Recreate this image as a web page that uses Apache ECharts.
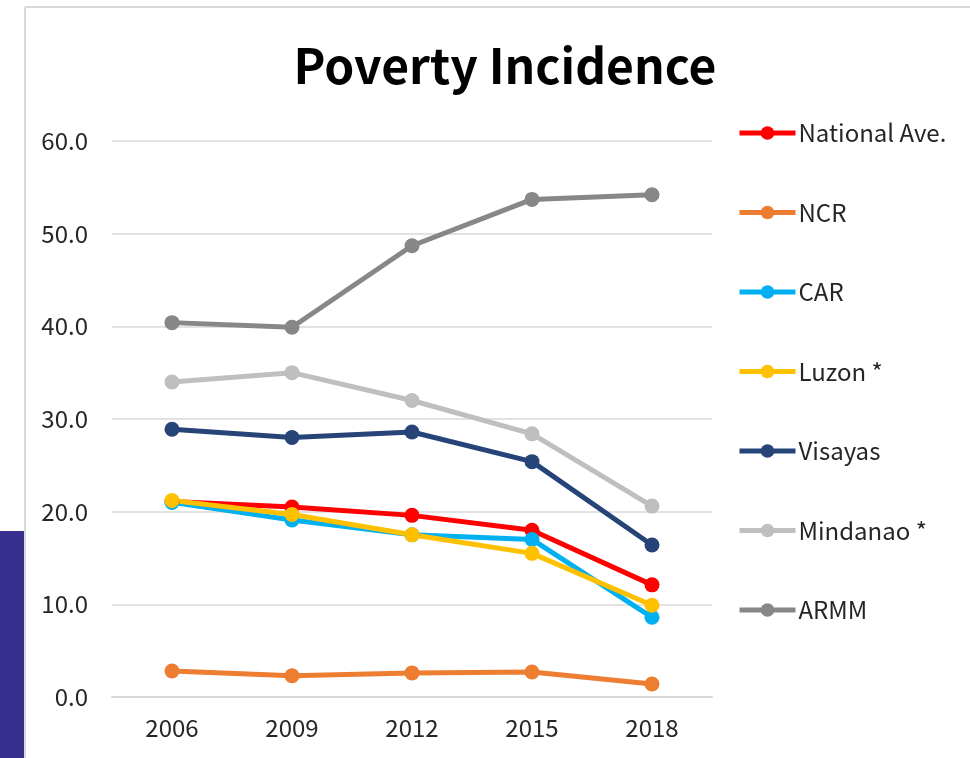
<!DOCTYPE html>
<html>
<head>
<meta charset="utf-8">
<script src="https://cdn.jsdelivr.net/npm/echarts@6/dist/echarts.min.js"></script>
<style>
html,body{margin:0;padding:0;background:#fff;}
#c{width:970px;height:758px;}
</style>
</head>
<body>
<div id="c"></div>
<script>
const years = ['2006', '2009', '2012', '2015', '2018'];
const nationalAve = [21.1, 20.5, 19.6, 18.0, 12.1];
const ncr = [2.8, 2.3, 2.6, 2.7, 1.4];
const car = [21.0, 19.1, 17.5, 17.0, 8.6];
const luzon = [21.2, 19.7, 17.5, 15.5, 9.9];
const visayas = [28.9, 28.0, 28.6, 25.4, 16.4];
const mindanao = [34.0, 35.0, 32.0, 28.4, 20.6];
const armm = [40.4, 39.9, 48.7, 53.7, 54.2];
const seriesNames = ['National Ave.', 'NCR', 'CAR', 'Luzon *', 'Visayas', 'Mindanao *', 'ARMM'];
const seriesColors = ['#FF0000', '#ED7D31', '#00B0F0', '#FFC000', '#264478', '#BFBFBF', '#878787'];
const seriesData = [nationalAve, ncr, car, luzon, visayas, mindanao, armm];

const font = '"Noto Sans CJK JP", "Noto Sans", sans-serif';
const chart = echarts.init(document.getElementById('c'));
chart.setOption({
  animation: false,
  backgroundColor: '#ffffff',
  title: {
    text: 'Poverty Incidence',
    left: 500, top: 37, textAlign: 'center',
    textStyle: { fontFamily: font, fontSize: 48, fontWeight: 'bold', color: '#000000' }
  },
  graphic: [
    { type: 'rect', shape: { x: 0, y: 531, width: 24, height: 227 }, style: { fill: '#372E8D' }, z: -1 },
    { type: 'line', shape: { x1: 25, y1: 7, x2: 970, y2: 7 }, style: { stroke: '#D9D9D9', lineWidth: 2 } },
    { type: 'line', shape: { x1: 25, y1: 7, x2: 25, y2: 758 }, style: { stroke: '#D9D9D9', lineWidth: 2 } }
  ],
  legend: {
    orient: 'vertical',
    left: 732, top: 116,
    itemWidth: 56, itemHeight: 17,
    itemGap: 55.5,
    data: seriesNames,
    lineStyle: { width: 5 },
    textStyle: { fontFamily: font, fontSize: 24, color: '#262626', padding: [0, 0, 0, -2], lineHeight: 24 }
  },
  grid: { left: 112, right: 258, top: 141, bottom: 61 },
  xAxis: {
    type: 'category', data: years, boundaryGap: true,
    axisLine: { show: true, lineStyle: { color: '#D9D9D9', width: 2 } },
    axisTick: { show: false },
    axisLabel: { fontFamily: font, fontSize: 24, color: '#262626', margin: 19 }
  },
  yAxis: {
    type: 'value', min: 0, max: 60, interval: 10,
    axisLine: { show: false }, axisTick: { show: false },
    splitLine: { lineStyle: { color: '#D9D9D9', width: 1.5 } },
    axisLabel: { fontFamily: font, fontSize: 24, color: '#262626', margin: 24, formatter: v => v.toFixed(1) }
  },
  series: seriesNames.map((n, i) => ({
    name: n, type: 'line', data: seriesData[i],
    symbol: 'circle', symbolSize: 15,
    lineStyle: { width: 5, color: seriesColors[i] },
    itemStyle: { color: seriesColors[i] }
  }))
});
</script>
</body>
</html>
